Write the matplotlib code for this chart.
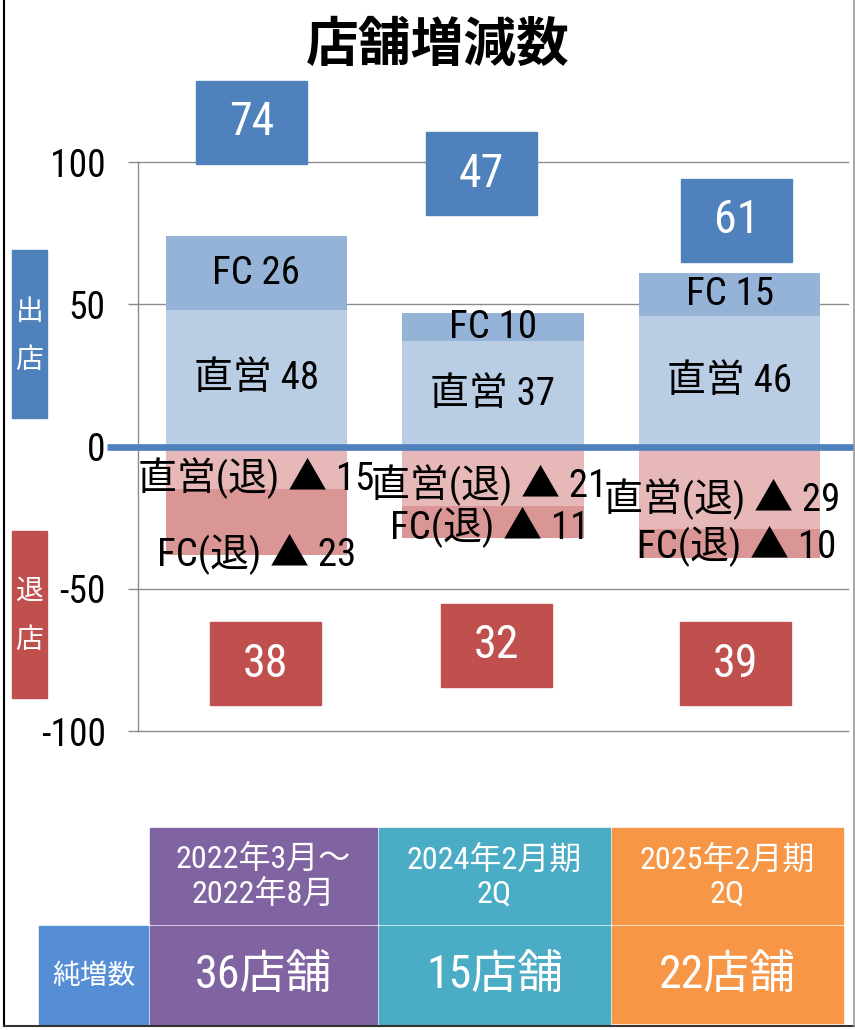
import numpy as np
import matplotlib
matplotlib.use('Agg')
import matplotlib.pyplot as plt
from matplotlib.patches import Rectangle
from matplotlib import font_manager as fm
import matplotlib.transforms as mtrans

# ---------------- data ----------------
periods = ['2022年3月～\n2022年8月', '2024年2月期\n2Q', '2025年2月期\n2Q']
open_direct = [48, 37, 46]      # 直営 出店
open_fc = [26, 10, 15]          # FC 出店
close_direct = [15, 21, 29]     # 直営 退店
close_fc = [23, 11, 10]         # FC 退店
yticks = [-100, -50, 0, 50, 100]

open_total = [a + b for a, b in zip(open_direct, open_fc)]
close_total = [a + b for a, b in zip(close_direct, close_fc)]
net = [o - c for o, c in zip(open_total, close_total)]

# ---------------- layout (positions only) ----------------
open_box_pos = [(-0.02, 114), (0.95, 96), (2.03, 79.6)]
close_box_pos = [(0.04, -76.4), (1.016, -69.9), (2.024, -76.4)]
close_direct_lbl = [(0.0, -11.2), (0.985, -13.4), (1.97, -18.3)]
close_fc_lbl = [(0.0, -37.8), (0.985, -28.5), (2.03, -35.0)]


def has_font(name):
    try:
        fm.findfont(fm.FontProperties(family=name), fallback_to_default=False)
        return True
    except Exception:
        return False


narrow_fam, narrow_stretch = None, 'normal'
for name in ['Liberation Sans Narrow', 'Arimo Narrow', 'Roboto Condensed',
             'Noto Sans Condensed', 'Open Sans Condensed', 'DejaVu Sans Condensed']:
    if has_font(name):
        narrow_fam = name
        break
if narrow_fam is None:
    for f in fm.fontManager.ttflist:
        st = f.stretch
        cond = (isinstance(st, str) and 'condensed' in st) or \
               (isinstance(st, int) and st < 500) or \
               ('Condensed' in f.fname) or ('Narrow' in f.fname)
        if cond and f.style == 'normal' and f.weight in (400, 'normal', 'regular') \
                and 'Mono' not in f.name and 'Serif' not in f.name:
            narrow_fam = f.name
            narrow_stretch = 'condensed'
            break
if narrow_fam is None:
    narrow_fam = 'Liberation Sans'

FAM = [narrow_fam, 'Noto Sans CJK JP', 'DejaVu Sans']
CJK = ['Noto Sans CJK JP', 'DejaVu Sans']
plt.rcParams['font.family'] = FAM
plt.rcParams['font.stretch'] = narrow_stretch

W, H = 855, 1030
fig = plt.figure(figsize=(W / 100, H / 100), dpi=100)
fig.patch.set_facecolor('white')

ax = fig.add_axes([138 / W, 1 - 731 / H, 710 / W, (731 - 77) / H])
ax.set_xlim(-0.5, 2.5)
ax.set_ylim(-100, 130)

x = np.arange(len(open_direct))
bw = 0.765
c_od, c_of = '#B9CDE5', '#95B3D7'
c_cd, c_cf = '#E6B9B8', '#D99694'
ax.bar(x, open_direct, bw, color=c_od, zorder=2)
ax.bar(x, open_fc, bw, bottom=open_direct, color=c_of, zorder=2)
neg_d = [-v for v in close_direct]
neg_f = [-v for v in close_fc]
ax.bar(x, neg_d, bw, color=c_cd, zorder=2)
ax.bar(x, neg_f, bw, bottom=neg_d, color=c_cf, zorder=2)

grid_c = '#8c8c8c'
for yv in yticks:
    if yv != 0:
        ax.axhline(yv, color=grid_c, lw=1.0, zorder=1, clip_on=False)

for s in ['top', 'right', 'bottom']:
    ax.spines[s].set_visible(False)
ax.spines['left'].set_bounds(-100, 100)
ax.spines['left'].set_color(grid_c)
ax.spines['left'].set_linewidth(1.0)
ax.set_xticks([])
ax.set_yticks(yticks)
ax.set_yticklabels([str(v) for v in yticks])
ax.tick_params(axis='y', length=7.2, width=1.0, color=grid_c, pad=16, labelsize=27)
for lab in ax.get_yticklabels():
    lab.set_family(FAM)
    lab.set_stretch(narrow_stretch)

# zero line (thick blue, extends beyond the axes)
trans = mtrans.blended_transform_factory(ax.transAxes, ax.transData)
ax.plot([-0.0437, 1.008], [0, 0], transform=trans, color='#4F81BD', lw=4.8,
        clip_on=False, zorder=4, solid_capstyle='butt')

# segment labels
lbl_fs = 28
tkw = dict(ha='center', va='center', family=FAM, stretch=narrow_stretch, zorder=5)
for i in x:
    ax.text(i, open_direct[i] / 2, f'直営 {open_direct[i]}', fontsize=lbl_fs, **tkw)
    ax.text(i, open_direct[i] + open_fc[i] / 2, f'FC {open_fc[i]}', fontsize=lbl_fs, **tkw)
    px, py = close_direct_lbl[i]
    ax.text(px, py, f'直営(退) ▲ {close_direct[i]}', fontsize=lbl_fs, clip_on=False, **tkw)
    px, py = close_fc_lbl[i]
    ax.text(px, py, f'FC(退) ▲ {close_fc[i]}', fontsize=lbl_fs, clip_on=False, **tkw)

# total boxes
box_w, box_h = 0.469, 29.2
bkw = dict(ha='center', va='center', color='white', fontsize=33, family=FAM,
           stretch=narrow_stretch, zorder=6, clip_on=False)
for i in x:
    cx, cy = open_box_pos[i]
    ax.add_patch(Rectangle((cx - box_w / 2, cy - box_h / 2), box_w, box_h,
                           color='#4F81BD', zorder=5, clip_on=False))
    ax.text(cx, cy, str(open_total[i]), **bkw)
    cx, cy = close_box_pos[i]
    ax.add_patch(Rectangle((cx - box_w / 2, cy - box_h / 2), box_w, box_h,
                           color='#C0504D', zorder=5, clip_on=False))
    ax.text(cx, cy, str(close_total[i]), **bkw)

# ---------------- overlay (pixel coords) ----------------
ov = fig.add_axes([0, 0, 1, 1])
ov.set_xlim(0, W)
ov.set_ylim(H, 0)
ov.axis('off')

ov.text(438, 45, '店舗増減数', ha='center', va='center', fontsize=38,
        fontweight='bold', family=CJK)

# side labels
ov.add_patch(Rectangle((12, 250), 35, 168, color='#4F81BD'))
ov.add_patch(Rectangle((12, 531), 35, 167, color='#C0504D'))
for ch, yy in [('出', 312), ('店', 360), ('退', 591), ('店', 640)]:
    ov.text(29.5, yy, ch, ha='center', va='center', color='white', fontsize=20, family=CJK)

# table
col_x = [(150, 377), (379, 610), (612, 843)]
col_c = ['#8064A2', '#4BACC6', '#F79646']
for i, ((x0, x1), cc) in enumerate(zip(col_x, col_c)):
    ov.add_patch(Rectangle((x0, 828), x1 - x0, 96, color=cc))
    ov.add_patch(Rectangle((x0, 926), x1 - x0, 98 if i < 2 else 97, color=cc))
    ov.text((x0 + x1) / 2, 877, periods[i], ha='center', va='center', color='white',
            fontsize=23, family=FAM, stretch=narrow_stretch, linespacing=1.2)
    ov.text((x0 + x1) / 2, 975, f'{net[i]}店舗', ha='center', va='center', color='white',
            fontsize=33, family=FAM, stretch=narrow_stretch)
ov.add_patch(Rectangle((39, 926), 109, 98, color='#558ED5'))
ov.text(93.5, 976, '純増数', ha='center', va='center', color='white', fontsize=20, family=CJK)

# border
ov.plot([4, 4], [0, 1026], color='black', lw=1.5)
ov.plot([4, 854], [1026, 1026], color='#333333', lw=1.5)
ov.plot([854, 854], [0, 1026], color='#999999', lw=1.2)

fig.savefig('out.png', dpi=100, facecolor='white')
